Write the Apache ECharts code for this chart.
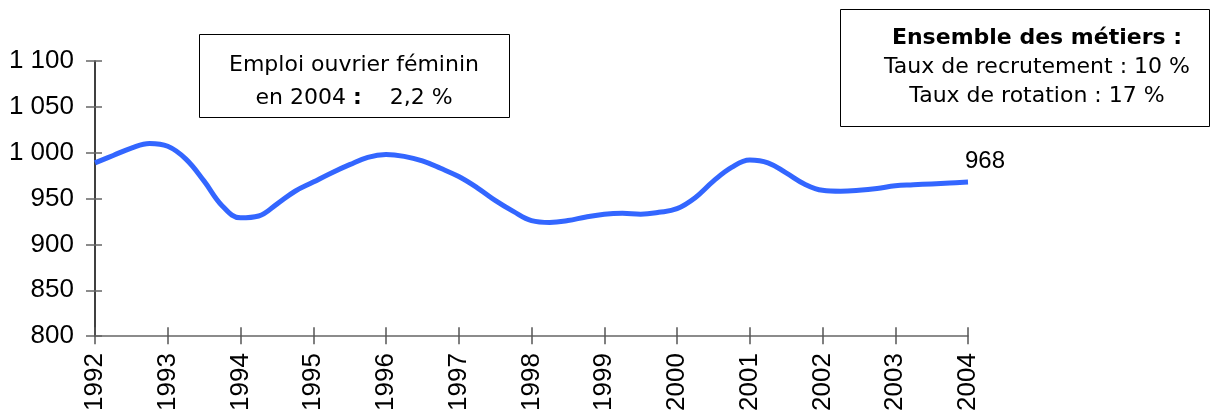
<!DOCTYPE html>
<html>
<head>
<meta charset="utf-8">
<script src="https://cdn.jsdelivr.net/npm/echarts@6/dist/echarts.min.js"></script>
<style>
html,body{margin:0;padding:0;background:#fff;}
#chart{width:1221px;height:414px;}
</style>
</head>
<body>
<div id="chart"></div>
<script>
// Tick labels (years)
const years = ['1992','1993','1994','1995','1996','1997','1998','1999','2000','2001','2002','2003','2004'];
// Quarterly categories: 1992 T1 ... 2004 T1
const categories = [];
years.forEach(function (y, i) {
  if (i < years.length - 1) {
    ['T1','T2','T3','T4'].forEach(function (q) { categories.push(y + ' ' + q); });
  } else {
    categories.push(y + ' T1');
  }
});
// Emploi (milliers), quarterly
const emploi = [989,997,1005,1010,1007,993,969,942,929,931,944,958,968,978,987,995,998,996,991,983,974,962,948,936,926,924,926,930,933,934,933,935,939,951,969,984,992,989,978,966,959,958,959,961,964,965,966,967,968];
const yTicks = [800, 850, 900, 950, 1000, 1050, 1100];
const lastLabel = '968';

const chart = echarts.init(document.getElementById('chart'));
const fmt = function (v) {
  const s = String(v);
  return s.length > 3 ? s.slice(0, s.length - 3) + ' ' + s.slice(-3) : s;
};
const axisFont = 'Liberation Sans, Arial, sans-serif';
const boxFont = 'DejaVu Sans, Verdana, sans-serif';

const option = {
  animation: false,
  backgroundColor: '#fff',
  grid: { left: 95, right: 253, top: 61, bottom: 77.5, containLabel: false },
  xAxis: [
    {
      type: 'category', data: categories, boundaryGap: false,
      axisLine: { show: true, lineStyle: { color: '#666', width: 1.5 } },
      axisTick: { show: true, interval: 3, length: 8, lineStyle: { color: '#555', width: 1.5 } },
      axisLabel: {
        interval: 3, rotate: 90, margin: 17, color: '#000',
        fontFamily: axisFont, fontSize: 26,
        formatter: function (v) { return v.slice(0, 4); }
      },
      splitLine: { show: false }
    },
    {
      type: 'category', data: categories, boundaryGap: false, position: 'bottom',
      axisLine: { show: false },
      axisTick: { show: true, inside: true, interval: 3, length: 9, lineStyle: { color: '#555', width: 1.5 } },
      axisLabel: { show: false },
      splitLine: { show: false }
    }
  ],
  yAxis: [
    {
      type: 'value', min: 800, max: 1100, interval: 50,
      axisLine: { show: true, lineStyle: { color: '#000', width: 1.5 } },
      axisTick: { show: true, length: 9, lineStyle: { color: '#666', width: 1.5 } },
      axisLabel: {
        margin: 21, color: '#000', fontFamily: axisFont, fontSize: 26,
        formatter: function (v) { return yTicks.indexOf(v) >= 0 ? fmt(v) : ''; }
      },
      splitLine: { show: false }
    },
    {
      type: 'value', min: 800, max: 1100, interval: 50, position: 'left',
      axisLine: { show: false },
      axisTick: { show: true, inside: true, length: 7, lineStyle: { color: '#666', width: 1.5 } },
      axisLabel: { show: false },
      splitLine: { show: false }
    }
  ],
  series: [
    {
      type: 'line', data: emploi, xAxisIndex: 0, yAxisIndex: 0,
      smooth: 0.4, showSymbol: false, symbol: 'none',
      lineStyle: { color: '#3366FF', width: 5 },
      markPoint: {
        symbol: 'circle', symbolSize: 0,
        data: [{ coord: [categories.length - 1, emploi[emploi.length - 1]] }],
        label: {
          show: true, formatter: lastLabel, position: 'top', offset: [17, -4],
          color: '#000', fontFamily: axisFont, fontSize: 24
        }
      }
    }
  ],
  graphic: [
    { type: 'rect', shape: { x: 199.5, y: 34.5, width: 310, height: 83 }, style: { fill: '#fff', stroke: '#000', lineWidth: 1 }, z: 10 },
    { type: 'text', x: 354, y: 65, style: { text: 'Emploi ouvrier féminin', fill: '#000', font: '22px ' + boxFont, textAlign: 'center', textVerticalAlign: 'middle' }, z: 11 },
    { type: 'text', x: 354, y: 98, style: {
        text: '{a|en 2004 }{b|:}{a|    2,2 %}',
        textAlign: 'center', textVerticalAlign: 'middle',
        rich: {
          a: { fill: '#000', fontFamily: boxFont, fontSize: 22 },
          b: { fill: '#000', fontFamily: boxFont, fontSize: 22, fontWeight: 'bold' }
        }
    }, z: 11 },
    { type: 'rect', shape: { x: 840.5, y: 9.5, width: 369, height: 117 }, style: { fill: '#fff', stroke: '#000', lineWidth: 1 }, z: 10 },
    { type: 'text', x: 1037, y: 38, style: { text: 'Ensemble des métiers :', fill: '#000', font: 'bold 22px ' + boxFont, textAlign: 'center', textVerticalAlign: 'middle' }, z: 11 },
    { type: 'text', x: 1037, y: 67, style: { text: 'Taux de recrutement : 10 %', fill: '#000', font: '22px ' + boxFont, textAlign: 'center', textVerticalAlign: 'middle' }, z: 11 },
    { type: 'text', x: 1037, y: 96, style: { text: 'Taux de rotation : 17 %', fill: '#000', font: '22px ' + boxFont, textAlign: 'center', textVerticalAlign: 'middle' }, z: 11 }
  ]
};
chart.setOption(option);
</script>
</body>
</html>
